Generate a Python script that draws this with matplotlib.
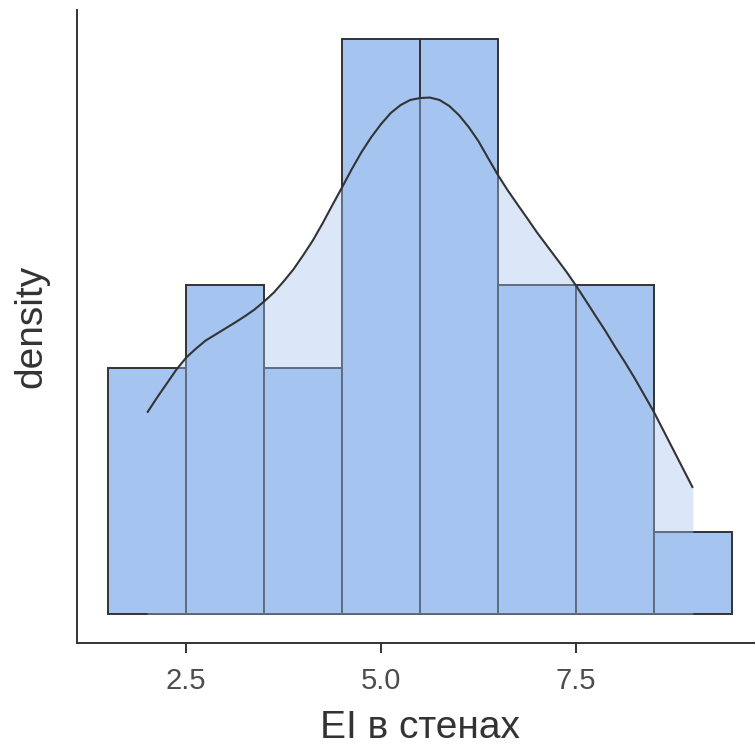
import matplotlib
matplotlib.use("Agg")
import matplotlib.pyplot as plt
import numpy as np

# Histogram data
bin_edges = [1.5, 2.5, 3.5, 4.5, 5.5, 6.5, 7.5, 8.5, 9.5]
counts = [3, 4, 3, 7, 7, 4, 4, 1]

# Density curve
curve_x = [2.0, 2.125, 2.25, 2.375, 2.5, 2.625, 2.75, 2.875, 3.0, 3.125,
           3.25, 3.375, 3.5, 3.625, 3.75, 3.875, 4.0, 4.125, 4.25, 4.375,
           4.5, 4.625, 4.75, 4.875, 5.0, 5.125, 5.25, 5.375, 5.5, 5.625,
           5.75, 5.875, 6.0, 6.125, 6.25, 6.375, 6.5, 6.625, 6.75, 6.875,
           7.0, 7.125, 7.25, 7.375, 7.5, 7.625, 7.75, 7.875, 8.0, 8.125,
           8.25, 8.375, 8.5, 8.625, 8.75, 8.875, 9.0]
curve_y = [0.0743, 0.0798, 0.0850, 0.0902, 0.0946, 0.0979, 0.1009, 0.1031,
           0.1053, 0.1075, 0.1098, 0.1123, 0.1153, 0.1186, 0.1227, 0.1271,
           0.1323, 0.1378, 0.1441, 0.1508, 0.1574, 0.1641, 0.1704, 0.1759,
           0.1807, 0.1848, 0.1877, 0.1896, 0.1903, 0.1905, 0.1896, 0.1874,
           0.1840, 0.1796, 0.1744, 0.1681, 0.1619, 0.1563, 0.1511, 0.1460,
           0.1408, 0.1360, 0.1312, 0.1264, 0.1212, 0.1157, 0.1101, 0.1046,
           0.0987, 0.0931, 0.0872, 0.0809, 0.0746, 0.0676, 0.0606, 0.0536,
           0.0466]

xticks = [2.5, 5.0, 7.5]
xtick_labels = ["2.5", "5.0", "7.5"]

plt.rcParams['font.family'] = ['Liberation Sans', 'DejaVu Sans']

fig = plt.figure(figsize=(7.55, 7.49), dpi=100)
ax = fig.add_axes([0.102, 0.1415, 0.9086, 0.845])

edges = np.array(bin_edges)
widths = np.diff(edges)
total = sum(counts)
heights = np.array(counts) / (total * widths)

bar_color = '#a6c4f0'
edge_color = '#333333'
ax.bar(edges[:-1], heights, width=widths, align='edge', color=bar_color,
       edgecolor=edge_color, linewidth=1.4, zorder=2)

ax.fill_between(curve_x, 0, curve_y, color=bar_color, alpha=0.4, linewidth=0, zorder=3)
ax.plot(curve_x, curve_y, color=edge_color, linewidth=1.5, zorder=4,
        solid_joinstyle='round', solid_capstyle='butt')

ax.set_xlim(1.1, 9.9)
top = max(heights)
ax.set_ylim(-0.05 * top, 1.05 * top)

for s in ['top', 'right']:
    ax.spines[s].set_visible(False)
for s in ['left', 'bottom']:
    ax.spines[s].set_color(edge_color)
    ax.spines[s].set_linewidth(1.4)

ax.set_yticks([])
ax.set_xticks(xticks)
ax.set_xticklabels(xtick_labels)
ax.tick_params(axis='x', length=7, width=1.4, color=edge_color, pad=10,
               labelsize=21, labelcolor='#4d4d4d')

ax.set_xlabel('EI в стенах', fontsize=28, color='#333333', labelpad=11)
ax.set_ylabel('density', fontsize=28, color='#333333', labelpad=20)

fig.savefig('out.png', dpi=100)
